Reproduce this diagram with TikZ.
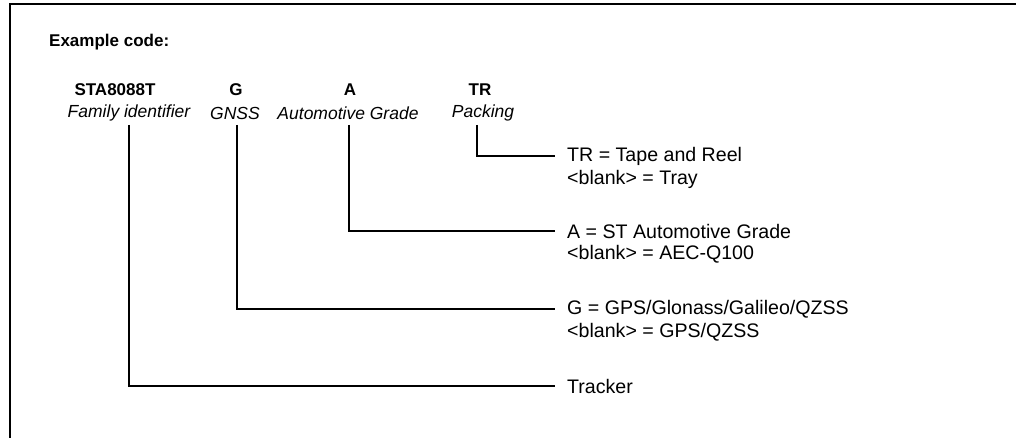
\documentclass[tikz,border=0pt]{standalone}
\usepackage{fontspec}
\setmainfont{Liberation Sans}
\begin{document}
\begin{tikzpicture}[x=1pt,y=-1pt,
  lbl/.style={inner sep=0pt,font=\fontsize{17}{20}\selectfont},
  codelbl/.style={lbl,font=\fontsize{17}{20}\selectfont\bfseries},
  desclbl/.style={lbl,font=\fontsize{17.5}{20}\selectfont\itshape},
  rtxt/.style={inner sep=0pt,anchor=west,font=\fontsize{19.6}{22}\selectfont},
  conn/.style={line width=2.2pt},
  frame/.style={line width=2.5pt}]
\useasboundingbox (0,0) rectangle (1016,438);
\draw[frame] (10,438) -- (10,4) -- (1016,4);
\node[codelbl,anchor=west] (ex) at (49,42) {Example code:};
% codes
\node[codelbl] (c1) at (115,90) {STA8088T};
\node[codelbl] (c2) at (236,90) {G};
\node[codelbl] (c3) at (350,90) {A};
\node[codelbl] (c4) at (480,90) {TR};
\node[desclbl] (d1) at (129,113) {Family identifier};
\node[desclbl] (d2) at (235,113) {GNSS};
\node[desclbl] (d3) at (348,113) {Automotive Grade};
\node[desclbl] (d4) at (483,113) {Packing};
% start points
\coordinate (s1) at (129,125);
\coordinate (s2) at (237,125);
\coordinate (s3) at (349,125);
\coordinate (s4) at (477,125);
% right texts
\node[rtxt] (r4) at (567,156) {TR = Tape and Reel};
\node[rtxt] (r4b) at (567,179) {<blank> = Tray};
\node[rtxt] (r3) at (567,231) {A = ST Automotive Grade};
\node[rtxt] (r3b) at (567,254) {<blank> = AEC-Q100};
\node[rtxt] (r2) at (567,309) {G = GPS/Glonass/Galileo/QZSS};
\node[rtxt] (r2b) at (567,332) {<blank> = GPS/QZSS};
\node[rtxt] (r1) at (567,386) {Tracker};
% connectors
\draw[conn] (s4) |- ([xshift=-12pt]r4.west);
\draw[conn] (s3) |- ([xshift=-12pt]r3.west);
\draw[conn] (s2) |- ([xshift=-12pt]r2.west);
\draw[conn] (s1) |- ([xshift=-12pt]r1.west);
\end{tikzpicture}
\end{document}
